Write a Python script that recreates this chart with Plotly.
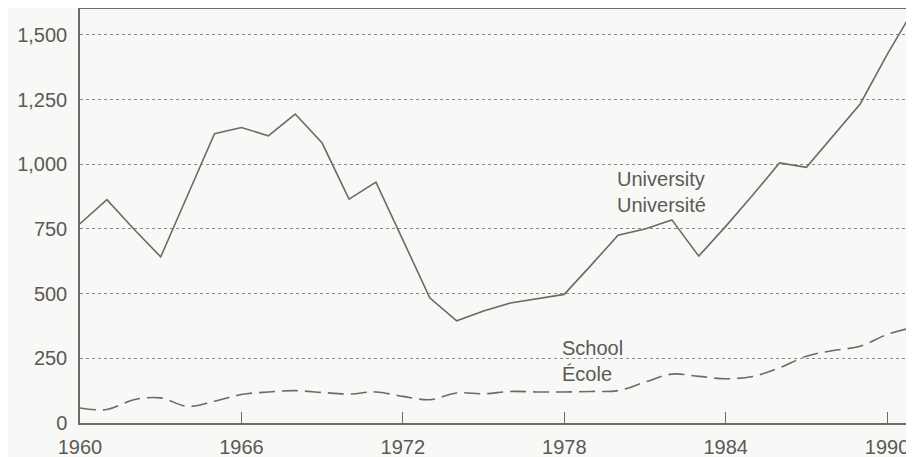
import plotly.graph_objects as go

years = list(range(1960, 1992))

university = [770, 863, 750, 642, 880, 1118, 1142, 1110, 1194, 1082,
              865, 931, 708, 484, 395, 433, 464, 480, 497, 610,
              726, 750, 785, 645, 760, 880, 1005, 988, 1110, 1233,
              1424, 1600]

school = [58, 52, 90, 97, 64, 84, 110, 120, 125, 118,
          112, 120, 103, 90, 116, 113, 122, 120, 120, 122,
          125, 158, 189, 180, 171, 180, 213, 258, 280, 297,
          342, 370]

y_ticks = [0, 250, 500, 750, 1000, 1250, 1500]
y_labels = ["0", "250", "500", "750", "1,000", "1,250", "1,500"]
x_ticks = [1960, 1966, 1972, 1978, 1984, 1990]

ink = "#6a6a66"
paper = "#f8f8f6"
text_col = "#5a5a56"
font = "Liberation Sans, Arial, sans-serif"

fig = go.Figure()

fig.add_trace(go.Scatter(x=years, y=university, mode="lines",
                         line=dict(color=ink, width=1.6), name="University"))
fig.add_trace(go.Scatter(x=years, y=school, mode="lines",
                         line=dict(color=ink, width=1.6, dash="16px,7px", shape="spline"),
                         name="School"))

# series labels, left aligned like the printed chart
fig.add_annotation(x=1979.9, y=893, text="University<br>Université", showarrow=False,
                   xanchor="left", align="left",
                   font=dict(size=20, color=text_col, family=font))
fig.add_annotation(x=1977.85, y=240, text="School<br>École", showarrow=False,
                   xanchor="left", align="left",
                   font=dict(size=20, color=text_col, family=font))

# page body has an 8px default margin, so the figure is a bit smaller than the window
fig.update_layout(
    width=906, height=449,
    margin=dict(l=72, r=0, t=1, b=34),
    paper_bgcolor=paper, plot_bgcolor=paper,
    showlegend=False,
    font=dict(family=font, size=20, color=text_col),
)

fig.update_xaxes(range=[1960, 1991], tickvals=x_ticks, ticks="inside", ticklen=11,
                 tickcolor=ink, showgrid=False, zeroline=False, automargin=False,
                 ticklabelstandoff=5,
                 showline=True, linecolor=ink, linewidth=1.5, mirror=True)
fig.update_yaxes(range=[0, 1600], tickvals=y_ticks, ticktext=y_labels, ticks="",
                 showgrid=True, gridcolor="#8a8a86", griddash="dot", gridwidth=1,
                 zeroline=False, automargin=False, ticklabelstandoff=7,
                 showline=True, linecolor=ink, linewidth=1.5)

fig.write_html("out.html")
